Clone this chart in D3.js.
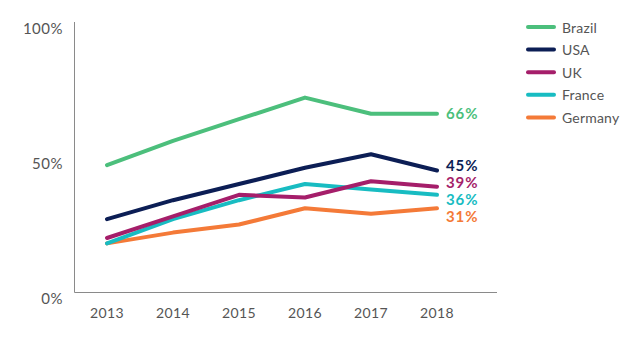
<!DOCTYPE html>
<html><head><meta charset="utf-8">
<script src="https://cdn.jsdelivr.net/npm/d3@7"></script>
<style>body{margin:0;background:#fff;}svg{display:block;}</style>
</head><body>
<svg id="chart" width="633" height="350"></svg>
<script>
const years = ["2013","2014","2015","2016","2017","2018"];
const seriesNames = ["Brazil","USA","UK","France","Germany"];
const brazil  = [47, 56, 64, 72, 66, 66];
const usa     = [27, 34, 40, 46, 51, 45];
const uk      = [20, 28, 36, 35, 41, 39];
const france  = [18, 27, 34, 40, 38, 36];
const germany = [18, 22, 25, 31, 29, 31];
const endLabels = ["66%","45%","39%","36%","31%"];
const yTicks = [0, 50, 100];
const colors = ["#4cbf7c","#0c1e55","#a51e6a","#18bcc2","#f47a38"];

const data = [brazil, usa, uk, france, germany];
const svg = d3.select("#chart");
const font = "Lato, 'Open Sans', sans-serif";

const x = d3.scalePoint().domain(years).range([107, 437]);
const y = d3.scaleLinear().domain([0, 100]).range([292, 22]);

// axes
svg.append("line").attr("x1",74.5).attr("x2",74.5).attr("y1",22).attr("y2",292.5).attr("stroke","#8a8a8a").attr("stroke-width",1);
svg.append("line").attr("x1",74.5).attr("x2",497).attr("y1",292.5).attr("y2",292.5).attr("stroke","#8a8a8a").attr("stroke-width",1);

svg.selectAll(".ytick").data(yTicks).enter().append("text")
  .attr("x", 63).attr("y", d => y(d) + 6)
  .attr("text-anchor","end").attr("dominant-baseline","central")
  .attr("font-family", font).attr("font-size", 15).attr("letter-spacing", 0.5).attr("fill","#555")
  .text(d => d + "%");

svg.selectAll(".xtick").data(years).enter().append("text")
  .attr("x", d => x(d)).attr("y", 312)
  .attr("text-anchor","middle").attr("dominant-baseline","central")
  .attr("font-family", font).attr("font-size", 14).attr("letter-spacing", 0.4).attr("fill","#555")
  .text(d => d);

const line = d3.line().x((d,i) => x(years[i])).y(d => y(d));

const drawOrder = [4, 3, 2, 1, 0];
drawOrder.forEach(k => {
  svg.append("path").datum(data[k]).attr("d", line)
    .attr("fill","none").attr("stroke", colors[k]).attr("stroke-width", 4)
    .attr("stroke-linejoin","round").attr("stroke-linecap","round");
});

// end labels
const labelY = [113, 165, 182, 199, 216];
seriesNames.forEach((n, k) => {
  svg.append("text").attr("x", 446).attr("y", labelY[k])
    .attr("dominant-baseline","central")
    .attr("font-family", font).attr("font-size", 15).attr("font-weight", 700).attr("letter-spacing", 0.9)
    .attr("fill", colors[k]).text(endLabels[k]);
});

// legend
seriesNames.forEach((n, k) => {
  const ly = 27 + k * 22.6;
  svg.append("line").attr("x1", 528).attr("x2", 554).attr("y1", ly).attr("y2", ly)
    .attr("stroke", colors[k]).attr("stroke-width", 4).attr("stroke-linecap","round");
  svg.append("text").attr("x", 562).attr("y", ly).attr("dominant-baseline","central")
    .attr("font-family", font).attr("font-size", 14).attr("letter-spacing", 0.2).attr("fill","#555").text(n);
});
</script>
</body></html>
